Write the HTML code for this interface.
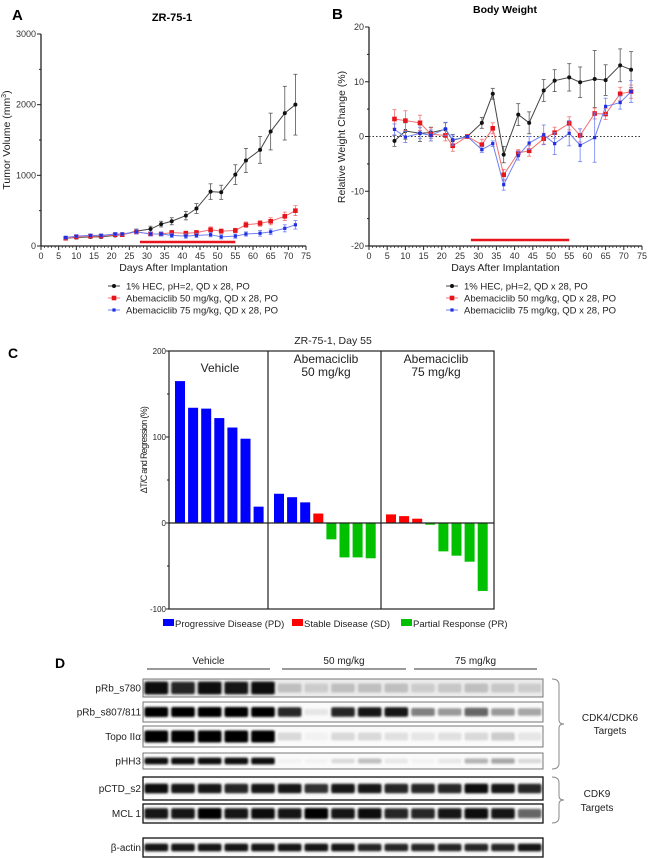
<!DOCTYPE html>
<html><head><meta charset="utf-8">
<style>
html,body{margin:0;padding:0;background:#fff;}
svg{display:block;font-family:"Liberation Sans",Arial,sans-serif;}
</style></head>
<body>
<svg id="fig" width="650" height="858" viewBox="0 0 650 858" xmlns="http://www.w3.org/2000/svg">
<defs><filter id="blur" x="-20%" y="-60%" width="140%" height="220%"><feGaussianBlur stdDeviation="1.1"/></filter></defs>
<g id="panelA"></g>
<g id="panelB"></g>
<g id="panelC"></g>
<g id="panelD"></g>
</svg>
<script>
// ---------- Panel A data ----------
const daysA = [7,10,14,17,21,23,27,31,34,37,41,44,48,51,55,58,62,65,69,72];
const vehA = [110,120,130,130,150,160,210,240,310,350,430,530,770,760,1010,1210,1360,1620,1880,2000];
const vehAErr = [20,20,20,20,20,20,30,40,40,50,60,70,110,100,140,170,190,260,380,430];
const a50A = [110,130,140,140,160,160,200,170,170,190,180,190,230,210,220,300,320,350,420,500];
const a50AErr = [20,20,20,20,20,20,30,30,30,30,30,30,40,30,30,40,40,50,60,70];
const a75A = [120,140,150,150,170,170,200,170,170,150,140,150,160,130,140,170,180,200,250,300];
const a75AErr = [20,20,20,20,20,20,30,30,30,30,30,30,30,30,30,30,40,40,50,60];
const yTicksA = [0,1000,2000,3000];
const xTicks = [0,5,10,15,20,25,30,35,40,45,50,55,60,65,70,75];
// ---------- Panel B data ----------
const daysB = [7,10,14,17,21,23,27,31,34,37,41,44,48,51,55,58,62,65,69,72];
const vehB = [-0.8,1.0,0.6,0.7,1.3,-0.7,0,2.5,7.8,-3.3,4.0,2.5,8.4,10.2,10.8,9.9,10.5,10.3,13.0,12.2];
const vehBErr = [1,1.5,1.5,1,1.2,1,0,1,1,1.5,2,2,2,2,2.5,2.8,5.2,2.8,3,3.3];
const a50B = [3.2,2.9,2.5,0.4,0.2,-1.7,0,-1.5,1.5,-7,-3,-2.6,-0.4,0.7,2.4,0.2,4.2,4.1,7.8,8.2];
const a50BErr = [1.7,1.8,1.4,1.2,1,1,0,1,1,1,0.6,1,1,1,1.2,1.2,1,1,1.2,1.2];
const a75B = [1.3,-0.1,0.6,0.2,1.4,-0.6,0,-2.4,-1.3,-8.8,-3.5,-1.2,0.3,-1.3,0.6,-1.6,-0.2,5.5,6.2,8.2];
const a75BErr = [1,1,1,1,1.2,1,0,0.5,0.5,1,0.8,1.2,1.8,2,2.3,3,4.5,1.5,1.2,2];
const yTicksB = [-20,-10,0,10,20];
// ---------- Panel C data ----------
const vehC = [165,134,133,122,111,98,19];
const a50C = [34,30,24,11,-19,-40,-40,-41];
const a75C = [10,8,5,-2,-33,-38,-45,-79];
const a50CCls = ['PD','PD','PD','SD','PR','PR','PR','PR'];
const a75CCls = ['SD','SD','SD','PR','PR','PR','PR','PR'];
const yTicksC = [-100,0,100,200];
// ---------- Panel D data ----------
const blotRows = ['pRb_s780','pRb_s807/811','Topo IIα','pHH3','pCTD_s2','MCL 1','β-actin'];
const s780 = [0.95,0.85,0.95,0.9,0.95,0.25,0.2,0.25,0.25,0.25,0.2,0.22,0.25,0.22,0.2];
const s807 = [1,1,1,1,1,0.85,0.1,0.85,0.9,0.9,0.5,0.4,0.6,0.4,0.35];
const topo = [1,1,1,1,1,0.15,0.05,0.15,0.15,0.12,0.1,0.12,0.15,0.2,0.1];
const phh3 = [0.95,0.95,0.95,0.95,0.95,0.05,0.05,0.15,0.25,0.1,0.05,0.1,0.3,0.35,0.15];
const pctd = [0.95,0.9,0.9,0.85,0.9,0.9,0.8,0.9,0.9,0.85,0.85,0.85,0.95,0.9,0.85];
const mcl1 = [0.9,0.9,1,0.9,0.95,0.9,1,0.9,0.95,0.85,0.85,0.9,0.95,0.9,0.6];
const actin = [0.9,0.9,0.9,0.9,0.9,0.9,0.9,0.9,0.85,0.85,0.85,0.85,0.85,0.85,0.9];

const NS='http://www.w3.org/2000/svg';
function mk(parent,tag,attrs,text){const e=document.createElementNS(NS,tag);for(const k in attrs)e.setAttribute(k,attrs[k]);if(text!==undefined)e.textContent=text;parent.appendChild(e);return e;}

function lineChart(g,cfg){
  const x=d=>cfg.x0+(d/75)*(cfg.x1-cfg.x0);
  const y=v=>cfg.yb+(v-cfg.ymin)/(cfg.ymax-cfg.ymin)*(cfg.yt-cfg.yb);
  const ax=mk(g,'g',{});
  
  
  mk(ax,'line',{x1:cfg.x0,y1:cfg.yt,x2:cfg.x0,y2:cfg.yb,stroke:'#222','stroke-width':1.3});
  mk(ax,'line',{x1:cfg.x0,y1:cfg.yb,x2:cfg.x1,y2:cfg.yb,stroke:'#222','stroke-width':1.3});
  for(let d=0;d<=75;d++){const big=d%5===0;mk(ax,'line',{x1:x(d),y1:cfg.yb,x2:x(d),y2:cfg.yb+(big?4:2),stroke:'#222','stroke-width':big?1:0.7});}
  xTicks.forEach(t=>{const tl=mk(ax,'text',{x:x(t),y:cfg.yb+13,'font-size':9,'text-anchor':'middle',fill:'#333'},t);});
  for(let v=cfg.ymin;v<=cfg.ymax+1e-9;v+=cfg.minor){mk(ax,'line',{x1:cfg.x0-(cfg.ticks.includes(v)?4:2),y1:y(v),x2:cfg.x0,y2:y(v),stroke:'#222','stroke-width':1});}
  cfg.ticks.forEach(t=>{const tl=mk(ax,'text',{x:cfg.x0-5,y:y(t)+3,'font-size':9,'text-anchor':'end',fill:'#333'},t);});
  if(cfg.zeroLine){mk(ax,'line',{x1:cfg.x0,y1:y(0),x2:cfg.x1,y2:y(0),stroke:'#333','stroke-dasharray':'1.5,2','stroke-width':1});}
  const rb=mk(g,'line',{x1:x(28),y1:cfg.barY,x2:x(55),y2:cfg.barY,stroke:'#e8141c','stroke-width':2.5});
  
  cfg.series.forEach(s=>{
    const sg=mk(g,'g',{});
    
    
    const pts=cfg.days.map((d,i)=>x(d)+','+y(s.v[i])).join(' ');
    mk(sg,'polyline',{points:pts,fill:'none',stroke:s.lc,'stroke-width':1});
    cfg.days.forEach((d,i)=>{
      const cx=x(d),e=s.e[i];
      mk(sg,'line',{x1:cx,y1:y(s.v[i]-e),x2:cx,y2:y(s.v[i]+e),stroke:s.ec,'stroke-width':0.8});
      mk(sg,'line',{x1:cx-2,y1:y(s.v[i]-e),x2:cx+2,y2:y(s.v[i]-e),stroke:s.ec,'stroke-width':0.8});
      mk(sg,'line',{x1:cx-2,y1:y(s.v[i]+e),x2:cx+2,y2:y(s.v[i]+e),stroke:s.ec,'stroke-width':0.8});
      const m = s.mk==='c'?mk(sg,'circle',{cx:cx,cy:y(s.v[i]),r:2,fill:s.c}):mk(sg,'rect',{x:cx-s.sz,y:y(s.v[i])-s.sz,width:2*s.sz,height:2*s.sz,fill:s.c});
      
      
    });
  });
  const xl=mk(g,'text',{x:(cfg.x0+cfg.x1)/2,y:cfg.yb+25,'font-size':10.5,'text-anchor':'middle',fill:'#222'},'Days After Implantation');
  
  const leg=mk(g,'g',{});
  
  cfg.series.forEach((s,i)=>{
    const ly=cfg.legY+i*12;
    const le=mk(leg,'g',{});
    
    mk(le,'line',{x1:cfg.legX,y1:ly,x2:cfg.legX+12,y2:ly,stroke:s.lc,'stroke-width':1});
    if(s.mk==='c')mk(le,'circle',{cx:cfg.legX+6,cy:ly,r:2,fill:s.c});else mk(le,'rect',{x:cfg.legX+6-s.sz,y:ly-s.sz,width:2*s.sz,height:2*s.sz,fill:s.c});
    mk(le,'text',{x:cfg.legX+18,y:ly+3.5,'font-size':9.5,fill:'#222'},s.label);
  });
}
const labels=['1% HEC, pH=2, QD x 28, PO','Abemaciclib 50 mg/kg, QD x 28, PO','Abemaciclib 75 mg/kg, QD x 28, PO'];
const gA=document.getElementById('panelA');
let t=mk(gA,'text',{x:12,y:20,'font-size':15,'font-weight':'bold'},'A');
t=mk(gA,'text',{x:172,y:21,'font-size':11,'font-weight':'bold','text-anchor':'middle'},'ZR-75-1');
t=mk(gA,'text',{x:0,y:0,'font-size':10.5,'text-anchor':'middle',transform:'translate(10,140) rotate(-90)',fill:'#222'});
t.innerHTML='Tumor Volume (mm<tspan font-size="7" dy="-4">3</tspan><tspan dy="4">)</tspan>';
lineChart(gA,{x0:41,x1:306,yt:34,yb:246,ymin:0,ymax:3000,minor:500,ticks:yTicksA,days:daysA,barY:242,legX:108,legY:286,
 series:[{name:'series-vehicle',v:vehA,e:vehAErr,c:'#111',lc:'#444',ec:'#555',mk:'c',label:labels[0]},
 {name:'series-50mg',v:a50A,e:a50AErr,c:'#e8141c',lc:'#f07070',ec:'#f07070',mk:'s',sz:2.3,label:labels[1]},
 {name:'series-75mg',v:a75A,e:a75AErr,c:'#2030e0',lc:'#7080f0',ec:'#7080f0',mk:'s',sz:1.6,label:labels[2]}]});
const gB=document.getElementById('panelB');
t=mk(gB,'text',{x:332,y:19,'font-size':15,'font-weight':'bold'},'B');
t=mk(gB,'text',{x:505,y:13,'font-size':10.5,'font-weight':'bold','text-anchor':'middle'},'Body Weight');
t=mk(gB,'text',{x:0,y:0,'font-size':10.5,'text-anchor':'middle',transform:'translate(345,137) rotate(-90)',fill:'#222'},'Relative Weight Change (%)');
lineChart(gB,{x0:369,x1:642,yt:27,yb:246,ymin:-20,ymax:20,minor:5,ticks:yTicksB,days:daysB,barY:240,legX:446,legY:286,zeroLine:true,
 series:[{name:'series-vehicle',v:vehB,e:vehBErr,c:'#111',lc:'#444',ec:'#555',mk:'c',label:labels[0]},
 {name:'series-50mg',v:a50B,e:a50BErr,c:'#e8141c',lc:'#f07070',ec:'#f07070',mk:'s',sz:2.3,label:labels[1]},
 {name:'series-75mg',v:a75B,e:a75BErr,c:'#2030e0',lc:'#7080f0',ec:'#7080f0',mk:'s',sz:1.6,label:labels[2]}]});

const gC=document.getElementById('panelC');
const cx0=169,cx1=494,cyT=351,cyB=609;
const yC=v=>cyB+(v+100)/300*(cyT-cyB);
t=mk(gC,'text',{x:8,y:358,'font-size':14,'font-weight':'bold'},'C');
t=mk(gC,'text',{x:333,y:344,'font-size':10.5,'text-anchor':'middle',fill:'#222'},'ZR-75-1,  Day 55');
t=mk(gC,'rect',{x:cx0,y:cyT,width:cx1-cx0,height:cyB-cyT,fill:'none',stroke:'#222','stroke-width':1.2});
[268,381].forEach(xx=>{const d=mk(gC,'line',{x1:xx,y1:cyT,x2:xx,y2:cyB,stroke:'#222','stroke-width':1.2});});
yTicksC.forEach(v=>{mk(gC,'line',{x1:cx0-3,y1:yC(v),x2:cx0,y2:yC(v),stroke:'#222'});const tl=mk(gC,'text',{x:cx0-3,y:yC(v)+3,'font-size':8,'text-anchor':'end',fill:'#222'},v);});
[-50,50,150].forEach(v=>mk(gC,'line',{x1:cx0-2,y1:yC(v),x2:cx0,y2:yC(v),stroke:'#222'}));
t=mk(gC,'text',{x:0,y:0,'font-size':9,'text-anchor':'middle',transform:'translate(147,450) rotate(-90)',fill:'#222','letter-spacing':'-0.7'},'ΔT/C and Regression (%)');
[['Vehicle',null,220],['Abemaciclib','50 mg/kg',326],['Abemaciclib','75 mg/kg',436]].forEach(g=>{
 const gl=mk(gC,'text',{x:g[2],y:g[1]?363:372,'font-size':12,'text-anchor':'middle',fill:'#222'},g[0]);
 if(g[1]){const g2=mk(gC,'text',{x:g[2],y:376,'font-size':12,'text-anchor':'middle',fill:'#222'},g[1]);}
});
const clsCol={PD:'#0000ff',SD:'#ff0000',PR:'#00c000'};
function bars(vals,cls,start,step){vals.forEach((v,i)=>{const x=start+i*step;const y0=yC(0),y1=yC(v);const b=mk(gC,'rect',{x:x,y:Math.min(y0,y1),width:10,height:Math.max(1,Math.abs(y1-y0)),fill:clsCol[cls[i]]});});}
bars(vehC,vehC.map(()=>'PD'),175,13.1);
bars(a50C,a50CCls,274,13.1);
bars(a75C,a75CCls,386,13.1);
mk(gC,'line',{x1:cx0,y1:yC(0),x2:cx1,y2:yC(0),stroke:'#222','stroke-width':1.2});
const legC=mk(gC,'g',{});
[['PD','Progressive Disease (PD)',163],['SD','Stable Disease (SD)',292],['PR','Partial Response (PR)',401]].forEach(l=>{
 const le=mk(legC,'g',{});
 mk(le,'rect',{x:l[2],y:619,width:11,height:7,fill:clsCol[l[0]]});
 mk(le,'text',{x:l[2]+12,y:627,'font-size':9.5,fill:'#222'},l[1]);
});

const gD=document.getElementById('panelD');
t=mk(gD,'text',{x:55,y:668,'font-size':14,'font-weight':'bold'},'D');
[['Vehicle',147,270],['50 mg/kg',282,406],['75 mg/kg',414,537]].forEach(h=>{
 const hg=mk(gD,'g',{});
 mk(hg,'line',{x1:h[1],y1:669,x2:h[2],y2:669,stroke:'#333','stroke-width':1});
 mk(hg,'text',{x:(h[1]+h[2])/2,y:664,'font-size':10,'text-anchor':'middle',fill:'#222'},h[0]);
});
const rowY=[[679,697],[702,722],[726,747],[753,769],[777,800],[804,823],[838,857]];
const rowData=[s780,s807,topo,phh3,pctd,mcl1,actin];
const rowBandH=[13,10,12,7,10,11,8];
const bx0=143,bx1=543,lane=(bx1-bx0)/15;
rowData.forEach((vals,r)=>{
 const [yt,yb]=rowY[r];
 const rg=mk(gD,'g',{});
 const lab=mk(rg,'text',{x:bx0-2,y:(yt+yb)/2+3.5,'font-size':10,'text-anchor':'end',fill:'#222'},blotRows[r]);
 
 mk(rg,'rect',{x:bx0,y:yt,width:bx1-bx0,height:yb-yt,fill:r===0?'#ebebeb':'#fafafa',stroke:r>=4?'#111':'#777','stroke-width':r>=4?1.3:1});
 const bg=mk(rg,'g',{filter:'url(#blur)'});
 vals.forEach((v,i)=>{
  const g=Math.round(255*(1-v));
  const h=rowBandH[r]*(0.6+0.4*v);
  const b=mk(bg,'rect',{x:bx0+i*lane+1.5,y:(yt+yb)/2-h/2,width:lane-3,height:h,rx:2,fill:'rgb('+g+','+g+','+g+')'});
  
  
 });
});
function brace(y1,y2,x){const m=(y1+y2)/2;return `M${x},${y1} Q${x+7},${y1} ${x+7},${y1+6} L${x+7},${m-4} Q${x+7},${m} ${x+12},${m} Q${x+7},${m} ${x+7},${m+4} L${x+7},${y2-6} Q${x+7},${y2} ${x},${y2}`;}
t=mk(gD,'path',{d:brace(679,769,552),fill:'none',stroke:'#888','stroke-width':1});
t=mk(gD,'path',{d:brace(777,823,552),fill:'none',stroke:'#888','stroke-width':1});
t=mk(gD,'text',{x:610,y:721,'font-size':10,'text-anchor':'middle',fill:'#222'},'CDK4/CDK6');
t=mk(gD,'text',{x:610,y:734,'font-size':10,'text-anchor':'middle',fill:'#222'},'Targets');
t=mk(gD,'text',{x:597,y:797,'font-size':10,'text-anchor':'middle',fill:'#222'},'CDK9');
t=mk(gD,'text',{x:597,y:811,'font-size':10,'text-anchor':'middle',fill:'#222'},'Targets');
</script>
</body></html>
